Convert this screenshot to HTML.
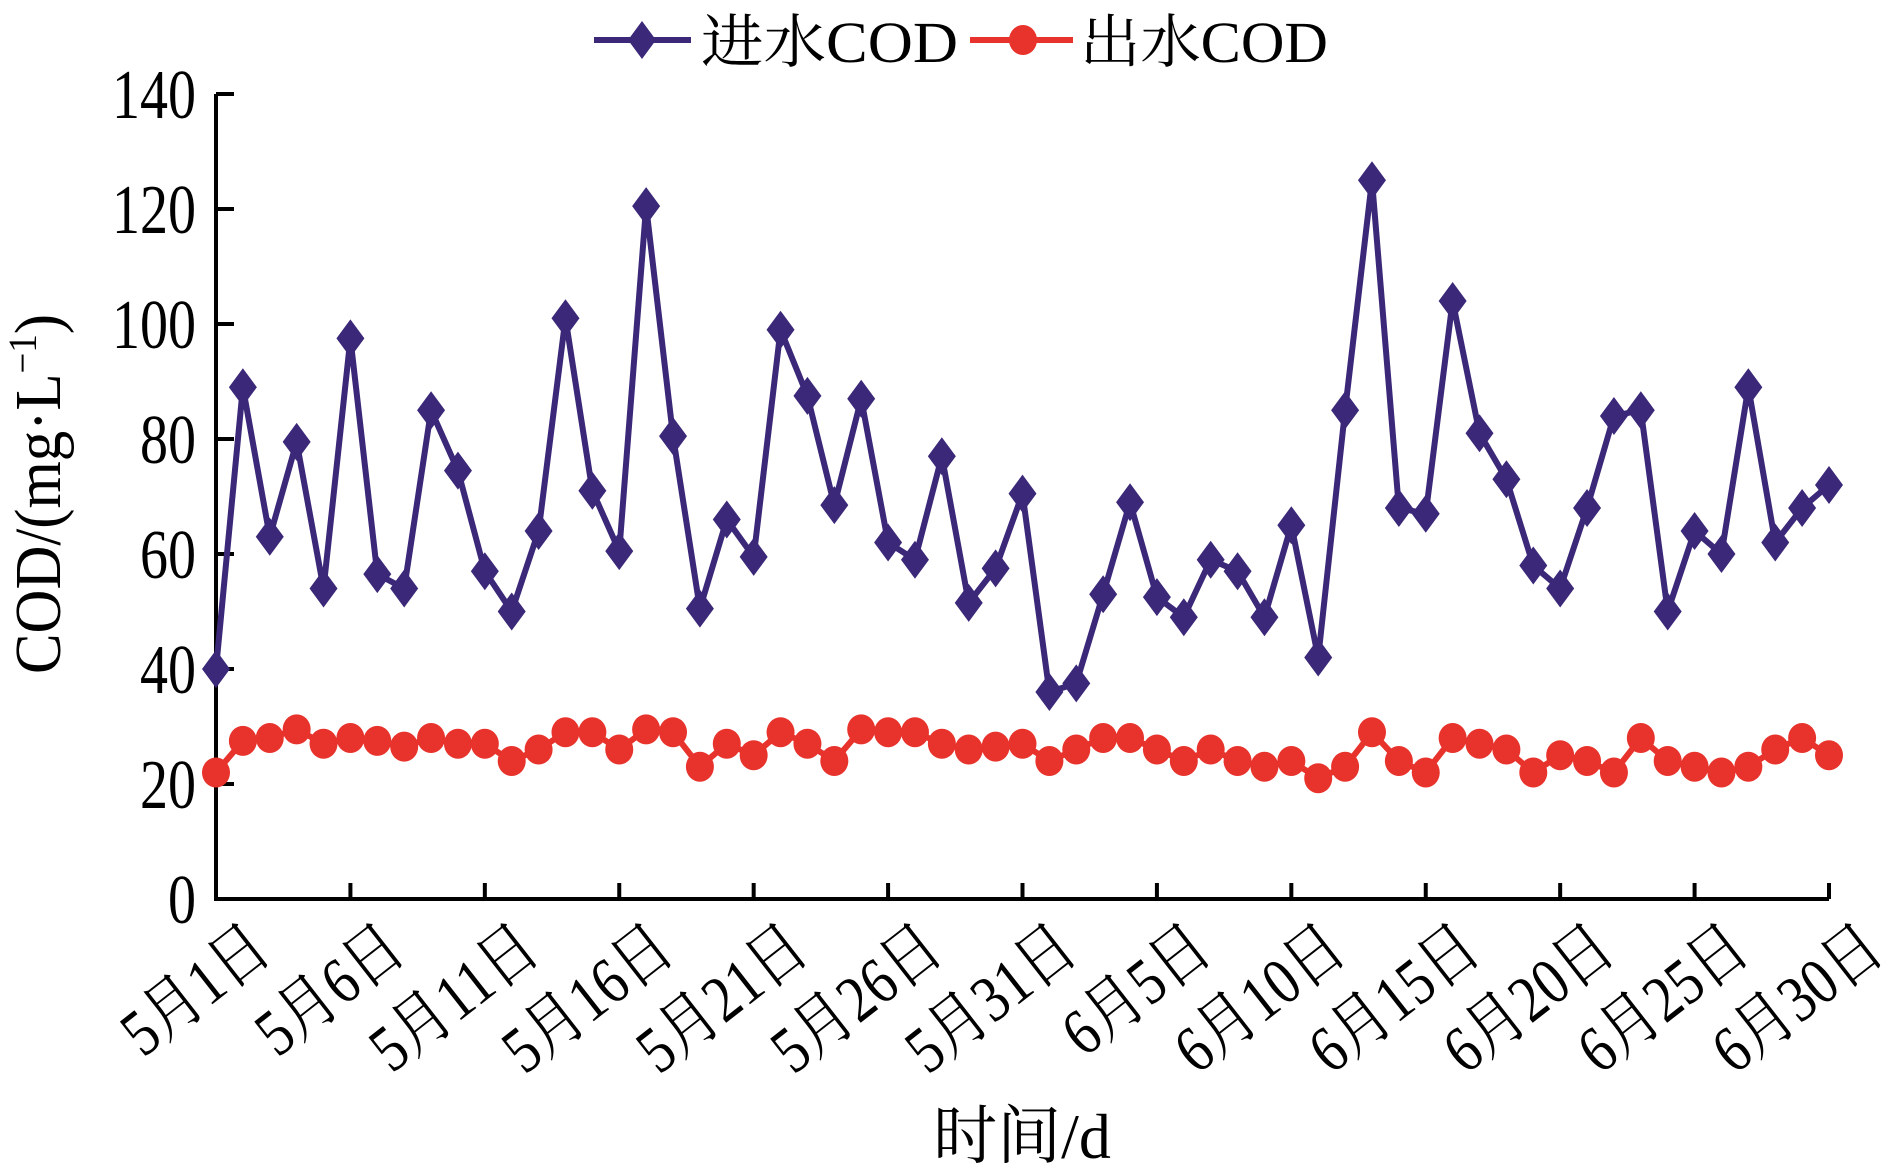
<!DOCTYPE html>
<html><head><meta charset="utf-8"><style>
html,body{margin:0;padding:0;background:#fff;}
svg{display:block;font-family:"Liberation Serif","Noto Serif CJK SC",serif;}
</style></head><body>
<svg id="chart" width="1902" height="1172" viewBox="0 0 1902 1172" xmlns="http://www.w3.org/2000/svg">
<g id="plot"></g>
</svg>
<script>
const inflow = [40,89,63,79.5,54,97.5,56.5,54,85,74.5,57,50,64,101,71,60.5,120.5,80.5,50.5,66,59.5,99,87.5,68.5,87,62,59,77,51.5,57.5,70.5,36,37.5,53,69,52.5,49,59,57,49,65,42,85,125,68,67,104,81,73,58,54,68,84,85,50,64,60,89,62,68,72];
const outflow = [22,27.5,28,29.5,27,28,27.5,26.5,28,27,27,24,26,29,29,26,29.5,29,23,27,25,29,27,24,29.5,29,29,27,26,26.5,27,24,26,28,28,26,24,26,24,23,24,21,23,29,24,22,28,27,26,22,25,24,22,28,24,23,22,23,26,28,25];
const yTicks = [0,20,40,60,80,100,120,140];
const xTickIdx = [0,5,10,15,20,25,30,35,40,45,50,55,60];
const xTickLabels = ["5月1日","5月6日","5月11日","5月16日","5月21日","5月26日","5月31日","6月5日","6月10日","6月15日","6月20日","6月25日","6月30日"];

const NS="http://www.w3.org/2000/svg";
const X0=216, X1=1829, Y0=899, Y1=94;
const xs=i=>X0+(X1-X0)*i/60;
const ys=v=>Y0-(Y0-Y1)*v/140;
const g=document.getElementById('plot');
function mk(tag,attrs,parent){const e=document.createElementNS(NS,tag);for(const k in attrs)e.setAttribute(k,attrs[k]);(parent||g).appendChild(e);return e;}

let ax=mk('path',{d:`M${X0} ${Y1}V${Y0}H${X1}`,fill:'none',stroke:'#000','stroke-width':4});


yTicks.forEach(v=>{
  const t=mk('line',{x1:X0,x2:X0+18,y1:ys(v),y2:ys(v),stroke:'#000','stroke-width':4});
  
  
  const l=mk('text',{x:196,y:ys(v)+24,'font-size':70,'text-anchor':'end',textLength:String(v).length*28,lengthAdjust:'spacingAndGlyphs'});
  l.textContent=v;
  
  
});
xTickIdx.forEach((i,k)=>{
  const x=xs(i);
  const t=mk('line',{x1:x,x2:x,y1:Y0,y2:Y0-16,stroke:'#000','stroke-width':4});
  
  
  const l=mk('text',{x:0,y:0,'font-size':66,'text-anchor':'end',transform:`translate(${x+58},${956}) rotate(-38) scale(0.84,1)`});
  l.textContent=xTickLabels[k];
  
  
});
let yt=mk('text',{x:0,y:0,'font-size':66,'text-anchor':'middle',transform:'translate(60,494) rotate(-90)',textLength:360,lengthAdjust:'spacingAndGlyphs'});
yt.innerHTML='COD/(mg·L<tspan font-size="40" dy="-24">−1</tspan><tspan dy="24">)</tspan>';


let xt=mk('text',{x:1022,y:1158,'font-size':64,'text-anchor':'middle'});
xt.textContent='时间/d';



const PUR='#3b2878', RED='#e8322c';
let pl=mk('polyline',{points:inflow.map((v,i)=>xs(i)+','+ys(v)).join(' '),fill:'none',stroke:PUR,'stroke-width':6,'stroke-linejoin':'miter'});


inflow.forEach((v,i)=>{
  const x=xs(i),y=ys(v);
  const d=mk('path',{d:`M${x} ${y-19}L${x+14} ${y}L${x} ${y+19}L${x-14} ${y}Z`,fill:PUR});
  
  
});
let rl=mk('polyline',{points:outflow.map((v,i)=>xs(i)+','+ys(v)).join(' '),fill:'none',stroke:RED,'stroke-width':6});


outflow.forEach((v,i)=>{
  const c=mk('ellipse',{cx:xs(i),cy:ys(v),rx:14,ry:15,fill:RED});
  
  
});

const lg=mk('g',{});


mk('line',{x1:594,x2:691,y1:40,y2:40,stroke:PUR,'stroke-width':6},lg);
mk('path',{d:'M642 21L656 40L642 59L628 40Z',fill:PUR},lg);
let lt1=mk('text',{x:701,y:62,'font-size':58,textLength:257,lengthAdjust:'spacingAndGlyphs'},lg);
lt1.textContent='进水COD';


mk('line',{x1:970,x2:1073,y1:40,y2:40,stroke:RED,'stroke-width':6},lg);
mk('ellipse',{cx:1023,cy:40,rx:14,ry:15,fill:RED},lg);
let lt2=mk('text',{x:1080,y:62,'font-size':58,textLength:248,lengthAdjust:'spacingAndGlyphs'},lg);
lt2.textContent='出水COD';


</script>
</body></html>
